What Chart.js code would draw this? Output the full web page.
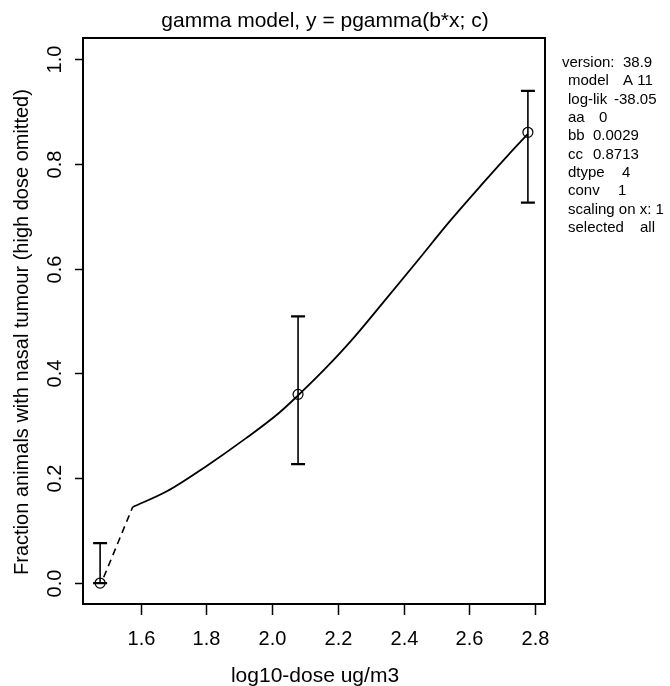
<!DOCTYPE html>
<html>
<head>
<meta charset="utf-8">
<script src="https://cdn.jsdelivr.net/npm/chart.js@4.4.1/dist/chart.umd.min.js"></script>
<style>
  html, body { margin: 0; padding: 0; background: #fff; }
  canvas { display: block; }
</style>
</head>
<body>
<canvas id="chart" width="670" height="686"></canvas>
<script>
// observed data (log10 dose) with confidence intervals
const doseLog = [1.477, 2.079, 2.778];
const fraction = [0, 0.36, 0.86];
const ciLower = [0, 0.227, 0.726];
const ciUpper = [0.076, 0.509, 0.939];

// fitted curve
const curveX = [1.576, 1.68, 1.80, 1.92, 2.02, 2.079, 2.16, 2.24, 2.34, 2.44, 2.54, 2.64, 2.72, 2.778];
const curveY = [0.145, 0.175, 0.223, 0.276, 0.324, 0.358, 0.408, 0.462, 0.537, 0.613, 0.69, 0.762, 0.818, 0.857];

// dashed part of the curve near the lowest dose
const dashX = [1.488, 1.576];
const dashY = [0.011, 0.145];

const xTicks = [1.6, 1.8, 2.0, 2.2, 2.4, 2.6, 2.8];
const yTicks = [0.0, 0.2, 0.4, 0.6, 0.8, 1.0];

// model info shown on the right
const infoLabels = ['model', 'log-lik', 'aa', 'bb', 'cc', 'dtype', 'conv', 'selected'];
const infoValues = ['A 11', '-38.05', '0', '0.0029', '0.8713', '4', '1', 'all'];

const FONT = '"Liberation Sans", Arial, sans-serif';

const toPoints = (xs, ys) => xs.map((x, i) => ({ x: x, y: ys[i] }));

// axes, box, error bars and texts drawn on top, R style
const rPlotPlugin = {
  id: 'rPlot',
  afterDraw(chart) {
    const ctx = chart.ctx;
    const a = chart.chartArea;
    const xs = chart.scales.x;
    const ys = chart.scales.y;
    ctx.save();
    ctx.strokeStyle = '#000';
    ctx.fillStyle = '#000';

    // box
    ctx.lineWidth = 2;
    ctx.strokeRect(a.left, a.top, a.right - a.left, a.bottom - a.top);

    // error bars
    doseLog.forEach((d, i) => {
      const px = xs.getPixelForValue(d);
      const lo = ys.getPixelForValue(ciLower[i]);
      const hi = ys.getPixelForValue(ciUpper[i]);
      ctx.lineWidth = 1.6;
      ctx.beginPath();
      ctx.moveTo(px, lo);
      ctx.lineTo(px, hi);
      ctx.stroke();
      ctx.lineWidth = 2.2;
      ctx.beginPath();
      ctx.moveTo(px - 7, lo);
      ctx.lineTo(px + 7, lo);
      ctx.moveTo(px - 7, hi);
      ctx.lineTo(px + 7, hi);
      ctx.stroke();
    });

    // x axis ticks + labels
    ctx.lineWidth = 1.5;
    ctx.font = '20px ' + FONT;
    ctx.textAlign = 'center';
    ctx.textBaseline = 'middle';
    xTicks.forEach((t) => {
      const px = Math.round(xs.getPixelForValue(t)) + 0.5;
      ctx.beginPath();
      ctx.moveTo(px, a.bottom);
      ctx.lineTo(px, a.bottom + 11);
      ctx.stroke();
      ctx.fillText(t.toFixed(1), px, a.bottom + 35);
    });

    // y axis ticks + rotated labels
    yTicks.forEach((t) => {
      const py = Math.round(ys.getPixelForValue(t)) + 0.5;
      ctx.beginPath();
      ctx.moveTo(a.left, py);
      ctx.lineTo(a.left - 8, py);
      ctx.stroke();
      ctx.save();
      ctx.translate(a.left - 28, py);
      ctx.rotate(-Math.PI / 2);
      ctx.fillText(t.toFixed(1), 0, 0);
      ctx.restore();
    });

    // y title
    ctx.save();
    ctx.translate(22, 332);
    ctx.rotate(-Math.PI / 2);
    ctx.fillText('Fraction animals with nasal tumour (high dose omitted)', 0, 0);
    ctx.restore();

    // main + x titles
    ctx.font = '21px ' + FONT;
    ctx.fillText('gamma model, y = pgamma(b*x; c)', 325, 21);
    ctx.fillText('log10-dose ug/m3', 315, 676);

    // model info
    ctx.font = '15px ' + FONT;
    ctx.textAlign = 'left';
    const valX = [623, 614, 599, 593, 593, 622, 618, 640];
    const step = 18.3;
    let y = 63;
    ctx.fillText('version:', 562, y);
    ctx.fillText('38.9', 623, y);
    for (let i = 0; i < infoLabels.length; i++) {
      y += step;
      if (infoLabels[i] === 'selected') {
        ctx.fillText('scaling on x: 1', 568, y);
        y += step;
      }
      ctx.fillText(infoLabels[i], 568, y);
      ctx.fillText(infoValues[i], valX[i], y);
    }
    ctx.restore();
  },
};

new Chart(document.getElementById('chart'), {
  type: 'scatter',
  data: {
    datasets: [
      {
        label: 'fit',
        data: toPoints(curveX, curveY),
        showLine: true,
        borderColor: '#000',
        borderWidth: 1.8,
        pointRadius: 0,
        cubicInterpolationMode: 'monotone',
      },
      {
        label: 'fit (extrapolated)',
        data: toPoints(dashX, dashY),
        showLine: true,
        borderColor: '#000',
        borderWidth: 1.6,
        borderDash: [7, 5],
        pointRadius: 0,
      },
      {
        label: 'observed',
        data: toPoints(doseLog, fraction),
        showLine: false,
        pointStyle: 'circle',
        pointRadius: 5,
        pointBorderWidth: 1.2,
        pointBorderColor: '#000',
        pointBackgroundColor: 'rgba(0,0,0,0)',
      },
    ],
  },
  options: {
    responsive: false,
    animation: false,
    devicePixelRatio: 1,
    layout: { padding: { left: 83, right: 125, top: 38, bottom: 82 } },
    plugins: {
      legend: { display: false },
      tooltip: { enabled: false },
    },
    scales: {
      x: { type: 'linear', display: false, min: 1.425, max: 2.83 },
      y: { type: 'linear', display: false, min: -0.04, max: 1.04 },
    },
  },
  plugins: [rPlotPlugin],
});
</script>
</body>
</html>
